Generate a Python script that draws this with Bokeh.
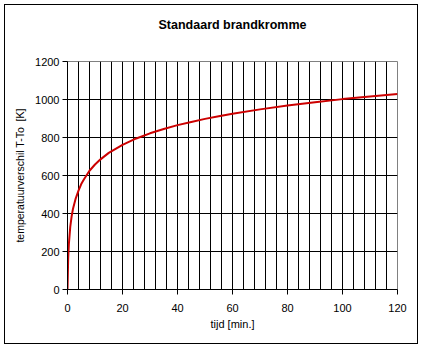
from bokeh.plotting import figure
from bokeh.models import Range1d, FixedTicker, Title, InlineStyleSheet
from bokeh.embed import file_html
from bokeh.resources import INLINE

# data
tijd = [0, 0.25, 0.5, 1, 1.5, 2, 3, 4, 5, 6, 8, 10, 12, 15, 20, 25, 30, 35,
        40, 45, 50, 55, 60, 70, 80, 90, 100, 110, 120]
temp = [0, 165, 240, 330, 385, 425, 480, 520, 555, 580, 625, 658, 685, 719,
        761, 795, 822, 845, 865, 882, 898, 912, 925, 948, 968, 986, 1002,
        1016, 1029]
x_ticks = [0, 20, 40, 60, 80, 100, 120]
y_ticks = [0, 200, 400, 600, 800, 1000, 1200]
x_grid = list(range(4, 120, 4))
y_grid = [200, 400, 600, 800, 1000]

FONT = "Liberation Sans"

p = figure(width=421, height=348, output_backend="svg", toolbar_location=None,
           x_range=Range1d(0, 120), y_range=Range1d(0, 1200),
           min_border_left=67, min_border_right=24, min_border_top=61,
           min_border_bottom=59)
p.title = Title(text="Standaard brandkromme", align="center",
                text_font=FONT, text_font_size="12.5px",
                text_font_style="bold", text_color="black", standoff=28)
# empty spacer between title and plot area
spacer = Title(text=" ", text_font_size="2px", standoff=12)
p.add_layout(spacer, "above")

p.background_fill_color = "white"
p.border_fill_color = "white"
p.outline_line_color = "#808080"
p.outline_line_width = 1
p.stylesheets = [InlineStyleSheet(css="""
:host { position: relative; }
:host::after {
  content: ""; position: absolute; left: 4px; top: 4px;
  width: 414px; height: 340px; border: 1px solid black;
  box-sizing: border-box; pointer-events: none; z-index: 100;
}
""")]

p.xaxis.ticker = FixedTicker(ticks=x_ticks)
p.yaxis.ticker = FixedTicker(ticks=y_ticks)
p.xgrid.ticker = FixedTicker(ticks=x_grid)
p.ygrid.ticker = FixedTicker(ticks=y_grid)
for g in (p.xgrid, p.ygrid):
    g.grid_line_color = "black"
    g.grid_line_width = 1

for ax in (p.xaxis, p.yaxis):
    ax.axis_line_color = "black"
    ax.major_tick_line_color = "black"
    ax.major_tick_in = 0
    ax.major_tick_out = 5
    ax.minor_tick_line_color = None
    ax.major_label_text_font = FONT
    ax.major_label_text_font_size = "11px"
    ax.major_label_text_color = "black"
    ax.axis_label_text_font = FONT
    ax.axis_label_text_font_style = "normal"
    ax.axis_label_text_color = "black"

p.xaxis.axis_label = "tijd [min.]"
p.xaxis.axis_label_text_font_size = "11px"
p.xaxis.major_label_standoff = 9
p.xaxis.axis_label_standoff = 3
p.yaxis.axis_label = "temperatuurverschil T-To\u00a0\u00a0[K]"
p.yaxis.axis_label_text_font_size = "10.5px"
p.yaxis.major_label_standoff = 3
p.yaxis.axis_label_standoff = 6

p.line(tijd, temp, line_color="#CC0000", line_width=2)

open("out.html", "w").write(file_html(p, INLINE))
